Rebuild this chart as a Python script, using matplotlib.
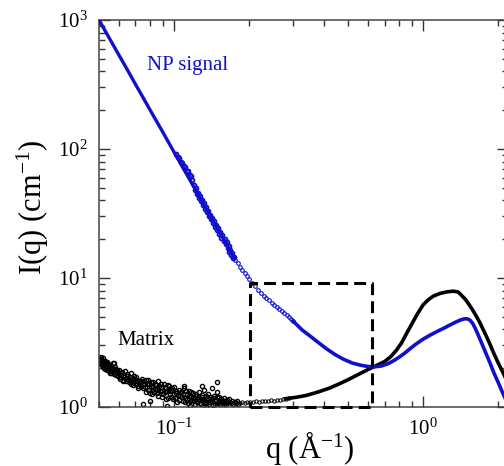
import matplotlib
matplotlib.use("Agg")
import matplotlib.pyplot as plt
from matplotlib.ticker import NullFormatter, LogLocator

plt.rcParams['font.family'] = ['Liberation Serif', 'DejaVu Serif']
plt.rcParams['mathtext.fontset'] = 'custom'
plt.rcParams['mathtext.rm'] = 'Liberation Serif'
plt.rcParams['mathtext.it'] = 'Liberation Serif:italic'

# ---------------- data ----------------
# NP signal: low-q main curve
np_low_q = [0.050, 0.055, 0.060, 0.065, 0.070, 0.075, 0.080, 0.090, 0.100,
            0.110, 0.120, 0.130, 0.140, 0.150, 0.160, 0.170, 0.175]
np_low_I = [1000, 723, 538, 411, 318, 252, 202, 136, 94.7,
            68.5, 51, 38.8, 30.2, 23.9, 19.2, 15.6, 14.1]
# NP signal: scattered band at the end of the low-q set
np_band_q = [0.1020, 0.1035, 0.1050, 0.1065, 0.1080, 0.1095, 0.1110, 0.1125, 0.1140,
             0.1155, 0.1170, 0.1185,
             0.1200, 0.1212, 0.1224, 0.1236, 0.1248, 0.1260, 0.1272, 0.1284, 0.1296,
             0.1308, 0.1320, 0.1333, 0.1346, 0.1359, 0.1372, 0.1385, 0.1398, 0.1411,
             0.1424, 0.1437, 0.1450, 0.1464, 0.1478, 0.1492, 0.1506, 0.1520, 0.1535,
             0.1550, 0.1565, 0.1580, 0.1595, 0.1610, 0.1625, 0.1640, 0.1655, 0.1670,
             0.1685, 0.1700, 0.1715, 0.1730, 0.1745]
np_band_I = [91.0, 86.0, 84.5, 79.5, 78.0, 73.5, 72.5, 68.0, 67.0,
             62.5, 62.0, 57.5,
             52.5, 48.0, 49.5, 45.0, 46.0, 42.0, 43.5, 39.5, 40.5,
             37.0, 38.0, 34.5, 35.5, 32.5, 33.0, 30.0, 31.0, 28.5,
             29.0, 26.8, 27.5, 25.0, 25.8, 23.4, 24.2, 22.0, 22.8,
             20.6, 21.4, 19.4, 20.2, 18.2, 18.9, 17.1, 17.8, 16.0,
             16.6, 15.0, 15.6, 14.2, 14.6]
# NP signal: sparse points in the overlap region
np_mid_q = [0.176, 0.180, 0.184, 0.188, 0.192, 0.196, 0.200, 0.205, 0.211, 0.217,
            0.223, 0.229, 0.235, 0.241, 0.247, 0.253, 0.259, 0.265, 0.271, 0.277,
            0.283, 0.289, 0.295, 0.301]
np_mid_I = [13.8, 13.0, 12.2, 11.6, 11.0, 10.4, 9.8, 9.2, 8.6, 8.1,
            7.6, 7.25, 7.0, 6.75, 6.45, 6.2, 5.95, 5.7, 5.5, 5.35,
            5.15, 4.95, 4.8, 4.65]
# NP signal: high-q curve
np_high_q = [0.300, 0.327, 0.355, 0.382, 0.410, 0.443, 0.480, 0.520, 0.560, 0.600,
             0.640, 0.680, 0.720, 0.760, 0.800, 0.840, 0.880, 0.930, 1.000, 1.070,
             1.140, 1.210, 1.280, 1.350, 1.410, 1.460, 1.500, 1.540, 1.580, 1.620,
             1.670, 1.720, 1.780, 1.850, 1.920, 2.000, 2.080, 2.150, 2.200]
np_high_I = [4.65, 3.95, 3.50, 3.13, 2.82, 2.55, 2.34, 2.19, 2.11, 2.06,
             2.05, 2.08, 2.16, 2.28, 2.43, 2.60, 2.80, 3.05, 3.36, 3.62,
             3.86, 4.08, 4.32, 4.55, 4.72, 4.82, 4.83, 4.72, 4.45, 4.05,
             3.55, 3.10, 2.65, 2.22, 1.85, 1.55, 1.30, 1.13, 1.03]

# Matrix: noisy low-q points
mat_noise_q = [0.0502, 0.0505, 0.0508, 0.0512, 0.0516, 0.0520, 0.0524, 0.0528, 0.0533, 0.0538,
               0.0543, 0.0548, 0.0553, 0.0558, 0.0564, 0.0570, 0.0576, 0.0582, 0.0588, 0.0595,
               0.0602, 0.0608, 0.0615, 0.0622, 0.0628, 0.0635, 0.0642, 0.0650, 0.0658, 0.0666,
               0.0674, 0.0682, 0.0690, 0.0698, 0.0706, 0.0715, 0.0724, 0.0733, 0.0742,
               0.0751, 0.0760, 0.0769, 0.0778, 0.0787, 0.0796, 0.0806, 0.0816, 0.0826, 0.0836,
               0.0846, 0.0856, 0.0866, 0.0877, 0.0888, 0.0899, 0.0910, 0.0921, 0.0932, 0.0944,
               0.0956, 0.0968, 0.0980, 0.0992, 0.1004, 0.1017, 0.1030, 0.1043, 0.1056, 0.1069,
               0.1082, 0.1096, 0.1110, 0.1124, 0.1138, 0.1152, 0.1167, 0.1182, 0.1197, 0.1212,
               0.1227, 0.1243, 0.1259, 0.1275, 0.1291, 0.1307, 0.1324, 0.1341, 0.1358, 0.1375,
               0.1392, 0.1410, 0.1428, 0.1446, 0.1464, 0.1483, 0.1502, 0.1521, 0.1540, 0.1560,
               0.1580, 0.1600, 0.1620,
               0.0750, 0.0800, 0.1160, 0.1490, 0.1300, 0.0940, 0.1350,
               0.0503, 0.0507, 0.0511, 0.0515, 0.0519, 0.0523, 0.0527, 0.0531, 0.0536, 0.0541,
               0.0546, 0.0551, 0.0556, 0.0561, 0.0567, 0.0573, 0.0579, 0.0585, 0.0591, 0.0598,
               0.0605, 0.0612, 0.0619, 0.0625, 0.0632, 0.0639, 0.0646, 0.0654, 0.0662, 0.0670,
               0.0678, 0.0686, 0.0694, 0.0702, 0.0711, 0.0720, 0.0729, 0.0738, 0.0747,
               0.0755, 0.0764, 0.0773, 0.0783, 0.0792, 0.0801, 0.0811, 0.0821, 0.0831, 0.0841,
               0.0851, 0.0861, 0.0872, 0.0883, 0.0894, 0.0905, 0.0916, 0.0927, 0.0938, 0.0950,
               0.0962, 0.0974, 0.0986, 0.0998, 0.1010, 0.1023, 0.1036, 0.1049, 0.1062, 0.1075,
               0.1089, 0.1103, 0.1117, 0.1131, 0.1145, 0.1160, 0.1175, 0.1190, 0.1205, 0.1220,
               0.1235, 0.1251, 0.1267, 0.1283, 0.1299, 0.1316, 0.1333, 0.1350, 0.1366, 0.1384,
               0.1401, 0.1419, 0.1437, 0.1455, 0.1474, 0.1492, 0.1512, 0.1531, 0.1550, 0.1570,
               0.1590, 0.1610, 0.1630, 0.1650, 0.1670, 0.1690, 0.1710, 0.1730, 0.1750, 0.1770,
               0.1790, 0.1810, 0.0576, 0.1420, 0.1100]
mat_noise_I = [2.40, 2.28, 2.35, 2.15, 2.30, 2.05, 2.22, 1.98, 2.12, 2.25,
               1.92, 2.08, 1.85, 2.02, 1.95, 2.18, 1.80, 1.97, 1.88, 1.75,
               1.92, 1.70, 1.84, 1.62, 1.78, 1.90, 1.66, 1.74, 1.55, 1.70,
               1.82, 1.48, 1.64, 1.58, 1.72, 1.45, 1.60, 1.52, 1.66,
               1.40, 1.58, 1.30, 1.50, 1.62, 1.36, 1.45, 1.25, 1.55, 1.38,
               1.48, 1.28, 1.60, 1.33, 1.42, 1.20, 1.52, 1.30, 1.40, 1.18,
               1.46, 1.25, 1.35, 1.15, 1.42, 1.28, 1.10, 1.36, 1.22, 1.30,
               1.12, 1.40, 1.18, 1.26, 1.08, 1.33, 1.20, 1.14, 1.28, 1.05,
               1.22, 1.15, 1.30, 1.08, 1.20, 1.12, 1.36, 1.06, 1.18, 1.25,
               1.10, 1.16, 1.04, 1.22, 1.12, 1.31, 1.07, 1.19, 1.10, 1.14,
               1.05, 1.12, 1.09,
               1.06, 1.12, 1.01, 1.55, 1.46, 1.02, 1.00,
               2.20, 2.45, 2.32, 2.10, 2.38, 2.00, 2.28, 2.18, 1.95, 2.15,
               2.00, 1.90, 2.12, 1.82, 1.98, 1.88, 2.05, 1.78, 1.92, 1.84,
               1.65, 1.76, 1.88, 1.58, 1.72, 1.60, 1.80, 1.66, 1.62, 1.50,
               1.68, 1.56, 1.74, 1.50, 1.62, 1.40, 1.56, 1.46, 1.58,
               1.50, 1.44, 1.62, 1.35, 1.52, 1.28, 1.56, 1.42, 1.30, 1.52,
               1.36, 1.22, 1.45, 1.50, 1.32, 1.25, 1.42, 1.16, 1.34, 1.48,
               1.32, 1.20, 1.40, 1.25, 1.18, 1.34, 1.24, 1.14, 1.30, 1.20,
               1.26, 1.10, 1.32, 1.15, 1.22, 1.12, 1.30, 1.18, 1.12, 1.26,
               1.10, 1.20, 1.14, 1.06, 1.24, 1.16, 1.10, 1.22, 1.13, 1.05,
               1.20, 1.12, 1.17, 1.06, 1.14, 1.20, 1.12, 1.05, 1.16, 1.10,
               1.18, 1.06, 1.13, 1.09, 1.15, 1.07, 1.12, 1.05, 1.10, 1.08,
               1.12, 1.06, 2.20, 1.40, 1.45]
# Matrix: sparse points in the overlap region
mat_mid_q = [0.184, 0.188, 0.192, 0.196, 0.202, 0.208, 0.214,
             0.220, 0.226, 0.232, 0.238, 0.245, 0.252, 0.259, 0.266, 0.274, 0.282, 0.290]
mat_mid_I = [1.08, 1.10, 1.08, 1.10, 1.09, 1.10, 1.11,
             1.10, 1.12, 1.11, 1.12, 1.13, 1.12, 1.14, 1.14, 1.15, 1.16, 1.17]
# Matrix: high-q curve
mat_high_q = [0.280, 0.310, 0.340, 0.380, 0.420, 0.460, 0.500, 0.550, 0.600, 0.630,
              0.670, 0.700, 0.740, 0.780, 0.820, 0.860, 0.900, 0.950, 1.000, 1.050,
              1.100, 1.170, 1.250, 1.320, 1.380, 1.430, 1.480, 1.530, 1.580, 1.630,
              1.690, 1.750, 1.810, 1.870, 1.930, 2.000, 2.070, 2.140, 2.200]
mat_high_I = [1.16, 1.19, 1.23, 1.31, 1.40, 1.51, 1.63, 1.79, 1.95, 2.04,
              2.16, 2.25, 2.45, 2.75, 3.15, 3.75, 4.40, 5.30, 6.20, 6.80,
              7.25, 7.60, 7.82, 7.90, 7.80, 7.30, 6.80, 6.20, 5.65, 5.10,
              4.50, 3.90, 3.40, 2.95, 2.55, 2.20, 1.92, 1.68, 1.50]

# Dashed zoom box
box_q = [0.202, 0.624]
box_I = [1.0, 9.15]

xlim = (0.05, 2.19)
ylim = (1.0, 1000.0)

# ---------------- figure ----------------
BLUE = '#1010cc'
fig = plt.figure(figsize=(5.04, 4.66), dpi=100)
ax = fig.add_axes([99/504, 1 - 407/466, 409/504, 387/466])
ax.set_xscale('log')
ax.set_yscale('log')

# NP signal
ax.plot(np_low_q, np_low_I, '-', color=BLUE, lw=2.4, zorder=3)
ax.plot(np_band_q, np_band_I, 'o', ms=2.8, mfc='none', mec=BLUE, mew=1.3, zorder=3)
ax.plot(np_mid_q, np_mid_I, 'o', ms=2.6, mfc='none', mec=BLUE, mew=0.8, zorder=3)
ax.plot(np_high_q, np_high_I, '-', color=BLUE, lw=2.6, zorder=3)

# Matrix
ax.plot(mat_noise_q, mat_noise_I, 'o', ms=3.0, mfc='none', mec='black', mew=1.0, zorder=2)
ax.plot(mat_mid_q, mat_mid_I, 'o', ms=2.4, mfc='none', mec='black', mew=0.7, zorder=2)
ax.plot(mat_high_q, mat_high_I, '-', color='black', lw=2.6, zorder=2)

# Dashed box
bx = [box_q[0], box_q[1], box_q[1], box_q[0], box_q[0]]
by = [box_I[0], box_I[0], box_I[1], box_I[1], box_I[0]]
ax.plot(bx, by, color='black', lw=2.2, linestyle=(0, (3.9, 2.0)),
        clip_on=False, zorder=4)

ax.set_xlim(*xlim)
ax.set_ylim(*ylim)

# Ticks
for axis in (ax.xaxis, ax.yaxis):
    axis.set_major_locator(LogLocator(base=10))
    axis.set_minor_locator(LogLocator(base=10, subs=[2, 3, 4, 5, 6, 7, 8, 9]))
    axis.set_minor_formatter(NullFormatter())
ax.tick_params(which='both', direction='in', top=True, right=True,
               color='#333333', width=1.0, labelsize=15, pad=8)
ax.tick_params(which='major', length=8)
ax.tick_params(which='minor', length=4.5)
for s in ax.spines.values():
    s.set_color('#444444')
    s.set_linewidth(1.1)

ax.set_xlabel('q (Å$^{\\mathdefault{-1}}$)', fontsize=22, va='center')
ax.xaxis.set_label_coords((310 - 99) / 409, (407 - 448) / 387)
ax.set_ylabel('I(q) (cm$^{\\mathdefault{-1}}$)', fontsize=22, va='center')
ax.yaxis.set_label_coords((33 - 99) / 409, (407 - 207) / 387)

ax.text((147 - 99) / 409, (407 - 70) / 387, 'NP signal', color=BLUE,
        fontsize=15, transform=ax.transAxes, ha='left', va='baseline')
ax.text((117 - 99) / 409, (407 - 345) / 387, 'Matrix', color='black',
        fontsize=15, transform=ax.transAxes, ha='left', va='baseline')

fig.savefig('out.png', dpi=100)
